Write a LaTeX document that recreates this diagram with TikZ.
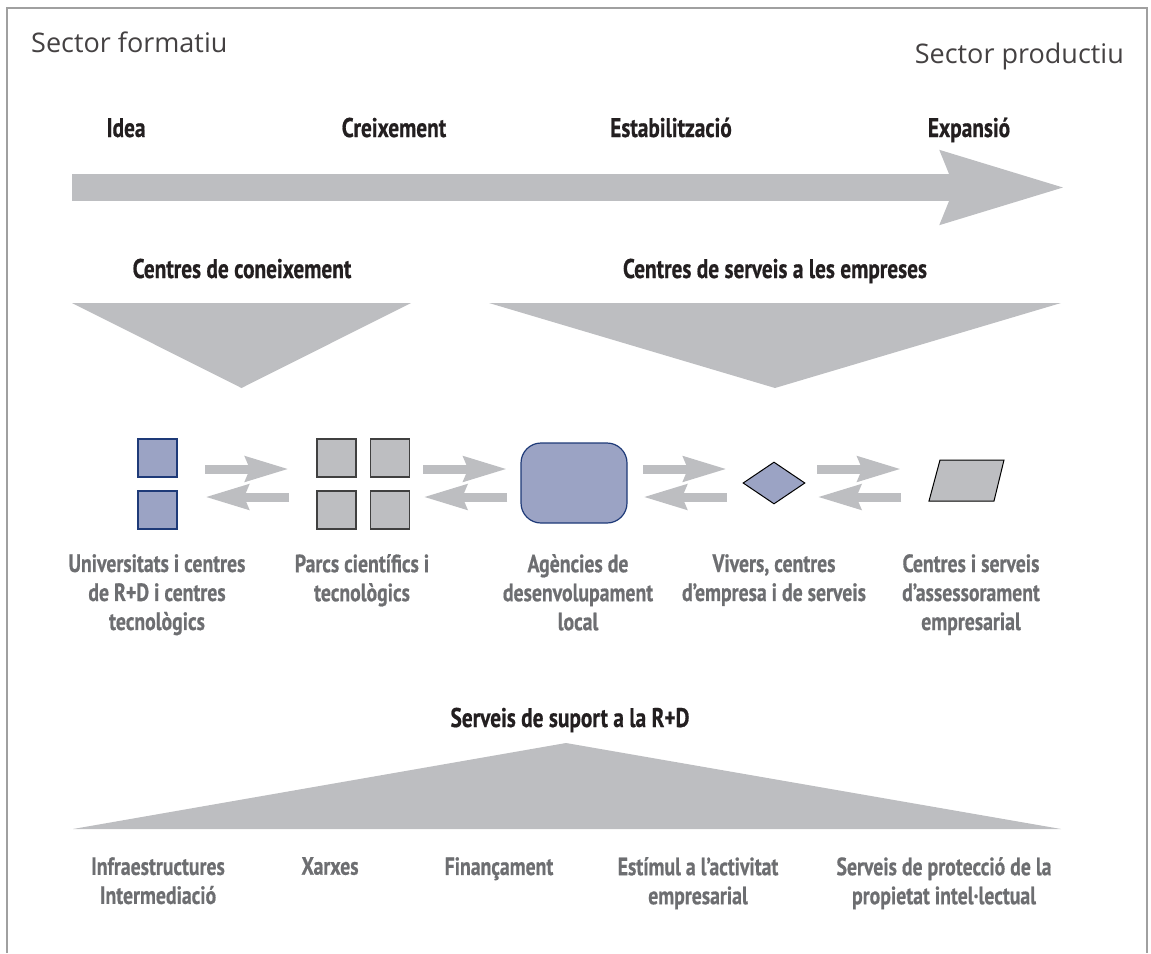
\documentclass[tikz,border=0pt]{standalone}
\usepackage{fontspec}
\setmainfont{Open Sans}
\newfontfamily\condfont[FakeStretch=0.79, BoldFeatures={FakeBold=0.6}]{PT Sans}
\usetikzlibrary{shapes.geometric,arrows.meta,calc,positioning}
\definecolor{grisforma}{HTML}{BDBEC1}
\definecolor{blaufons}{HTML}{9BA3C4}
\definecolor{blauvora}{HTML}{1E3A78}
\definecolor{grisetiq}{HTML}{6D6E71}
\definecolor{negre}{HTML}{231F20}
\definecolor{grismarc}{HTML}{A0A0A0}
\tikzstyle{fase} = [font=\condfont\bfseries\fontsize{27}{30}\selectfont, text=negre,
    anchor=base, inner sep=0pt]
\tikzstyle{etiqueta} = [font=\condfont\bfseries\fontsize{25}{29}\selectfont, text=grisetiq,
    align=center, anchor=north, inner sep=0pt]
\tikzstyle{sector} = [font=\fontsize{27}{30}\selectfont, text=negre!85, inner sep=0pt]
\tikzstyle{quadblau} = [rectangle, draw=blauvora, fill=blaufons, line width=1.2pt,
    minimum width=39pt, minimum height=38pt, inner sep=0pt]
\tikzstyle{quadgris} = [rectangle, draw=black!75, fill=grisforma, line width=1.2pt,
    minimum width=39pt, minimum height=38pt, inner sep=0pt]
\tikzstyle{flux} = [draw=grisforma, line width=9pt, -{Stealth[length=43pt,width=24pt,inset=4pt]}]
\tikzstyle{granfletxa} = [draw=grisforma, line width=27pt, -{Stealth[length=123pt,width=67pt,inset=10pt]}]
% two arrows, there and back, in the gap between two icons
\newcommand{\doblefletxa}[2]{%
  \coordinate (mig) at ($(#1)!0.5!(#2)$);
  \coordinate (mig) at (mig |- agencia.center);
  \draw[flux] ($(mig)+(-42,-14)$) -- ($(mig)+(42,-14)$);
  \draw[flux] ($(mig)+(42,14)$) -- ($(mig)+(-42,14)$);}

\begin{document}
\begin{tikzpicture}[x=1pt, y=-1pt]
  \useasboundingbox (0,0) rectangle (1151,953);
  \draw[grismarc, line width=1.5pt] (7,953) -- (7,8) -- (1147,8) -- (1147,953);

  % Sectors and phases
  \node[sector, anchor=base west] (formatiu) at (31,52) {Sector formatiu};
  \node[sector, anchor=base east] (productiu) at (1124,63) {Sector productiu};

  \node[fase] (idea) at (126,137) {Idea};
  \node[fase] (creix) at (394,137) {Creixement};
  \node[fase] (estab) at (671,137) {Estabilització};
  \node[fase] (expan) at (969,137) {Expansió};

  \coordinate (inici) at (72,187.5);
  \coordinate (final) at (1068,187.5);
  \draw[granfletxa] (inici) -- (final);

  % Kinds of centres
  \node[fase] (coneix) at (242,278) {Centres de coneixement};
  \node[fase] (serveis) at (775,278) {Centres de serveis a les empreses};
  \fill[grisforma] (72,303) -- (411,303) -- (241.5,388) -- cycle;
  \fill[grisforma] (489,303) -- (1061,303) -- (775,388) -- cycle;

  % Place icons
  \node[quadblau] (univA) at (157.5,458) {};
  \node[quadblau, below of=univA, node distance=52pt] (univB) {};

  \node[quadgris] (parcsA) at (336.5,458) {};
  \node[quadgris, right of=parcsA, node distance=53.5pt] (parcsB) {};
  \node[quadgris, below of=parcsA, node distance=52pt] (parcsC) {};
  \node[quadgris, right of=parcsC, node distance=53.5pt] (parcsD) {};

  \node[rectangle, rounded corners=20pt, draw=blauvora, fill=blaufons, line width=1.2pt,
    minimum width=106pt, minimum height=80pt] (agencia) at (574,483) {};

  \node[diamond, draw=black, fill=blaufons, line width=1pt, inner sep=0pt,
    minimum width=62pt, minimum height=42pt] (vivers) at (774,483) {};

  \draw[black, fill=grisforma, line width=1pt]
    (929,501) coordinate (centresSW) -- (994,501) -- (1004,460) -- (940,460) -- cycle;
  \coordinate (centresW) at (913,481);

  \doblefletxa{univA.east}{parcsA.west}
  \doblefletxa{parcsB.east}{agencia.west}
  \doblefletxa{agencia.east}{vivers.west}
  \doblefletxa{vivers.east}{centresW}

  \node[etiqueta] (tunivers) at (157,554) {Universitats i centres\\de R+D i centres\\tecnològics};
  \node[etiqueta] (tparcs) at (362,554) {Parcs científics i\\tecnològics};
  \node[etiqueta] (tagencia) at (578,554) {Agències de\\desenvolupament\\local};
  \node[etiqueta] (tvivers) at (774,554) {Vivers, centres\\d’empresa i de serveis};
  \node[etiqueta] (tcentres) at (971,554) {Centres i serveis\\d’assessorament\\empresarial};

  % Support services
  \node[fase] (suport) at (570,727) {Serveis de suport a la R+D};
  \fill[grisforma] (73,829) -- (1061,829) -- (566,743) -- cycle;

  \node[etiqueta] (tinfra) at (158,857) {Infraestructures\\Intermediació};
  \node[etiqueta] (txarxes) at (330,857) {Xarxes};
  \node[etiqueta] (tfinan) at (499,857) {Finançament};
  \node[etiqueta] (testimul) at (698,857) {Estímul a l’activitat\\empresarial};
  \node[etiqueta] (tprotec) at (944,857) {Serveis de protecció de la\\propietat intel·lectual};
\end{tikzpicture}
\end{document}
